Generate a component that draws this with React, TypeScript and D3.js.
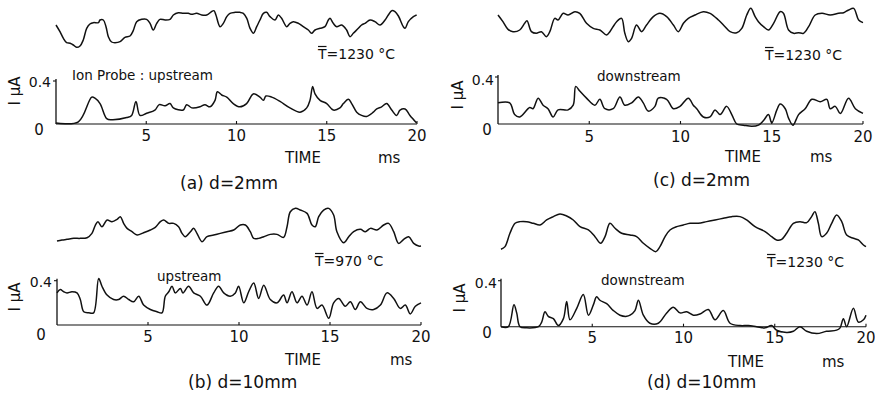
import React from 'react';
import * as d3 from 'd3';

// time axis (ms) and ion current ticks
const timeTicks = [5, 10, 15, 20];
const ionTop = 0.4;

// temperature traces, relative units (no scale drawn in the figure)
const tempA: [number, number][] = [
  [0, 75], [0.22, 55], [0.41, 35], [0.59, 22], [0.78, 20], [0.96, 15], [1.14, 8], [1.33, 12], [1.51, 30],
  [1.7, 65], [1.88, 78], [2.07, 82], [2.35, 82], [2.44, 90], [2.62, 90], [2.77, 70], [2.9, 40], [3.08, 24],
  [3.27, 22], [3.55, 25], [3.82, 38], [4.1, 42], [4.28, 58], [4.47, 85], [4.75, 92], [5.02, 92], [5.21, 80],
  [5.39, 60], [5.58, 80], [5.76, 92], [6.04, 90], [6.32, 92], [6.5, 105], [6.78, 112], [7.05, 110],
  [7.33, 110], [7.52, 107], [7.79, 110], [8.07, 105], [8.35, 105], [8.62, 115], [8.75, 118], [8.86, 105],
  [9.09, 70], [9.27, 80], [9.46, 100], [9.64, 110], [9.92, 113], [10.19, 113], [10.38, 110], [10.57, 95],
  [10.75, 65], [10.94, 50], [11.12, 70], [11.3, 90], [11.49, 110], [11.67, 113], [11.86, 100], [12.13, 90],
  [12.32, 105], [12.5, 95], [12.78, 70], [12.96, 80], [13.15, 85], [13.43, 80], [13.7, 70], [13.98, 60],
  [14.16, 50], [14.35, 60], [14.63, 65], [14.9, 70], [15.09, 90], [15.18, 95], [15.36, 80], [15.55, 70],
  [15.83, 75], [16.1, 60], [16.29, 40], [16.47, 50], [16.75, 65], [16.93, 75], [17.12, 80], [17.4, 90],
  [17.67, 85], [17.95, 75], [18.23, 90], [18.41, 105], [18.6, 118], [18.78, 115], [18.97, 102], [19.24, 70],
  [19.34, 65], [19.52, 85], [19.8, 100], [19.98, 105],
];

const tempB: [number, number][] = [
  [0, 17], [0.27, 20], [0.55, 22], [0.92, 25], [1.28, 25], [1.65, 27], [1.92, 40], [2.11, 65], [2.25, 75],
  [2.47, 60], [2.75, 80], [3.02, 75], [3.3, 82], [3.48, 90], [3.66, 70], [3.85, 55], [4.12, 45], [4.4, 35],
  [4.76, 42], [5.13, 50], [5.4, 58], [5.68, 75], [5.86, 80], [6.14, 70], [6.41, 70], [6.68, 60], [6.87, 40],
  [7.05, 30], [7.33, 45], [7.51, 55], [7.69, 40], [7.97, 15], [8.24, 30], [8.61, 35], [8.97, 40], [9.34, 45],
  [9.71, 50], [10.07, 65], [10.35, 65], [10.62, 45], [10.81, 25], [11.08, 25], [11.36, 30], [11.72, 37],
  [12.09, 37], [12.45, 28], [12.64, 60], [12.82, 105], [13.1, 115], [13.37, 110], [13.74, 100], [14.01, 65],
  [14.19, 60], [14.38, 90], [14.65, 110], [14.93, 115], [15.2, 95], [15.38, 45], [15.75, 12], [16.03, 30],
  [16.3, 45], [16.67, 52], [16.94, 45], [17.22, 55], [17.58, 50], [17.95, 65], [18.22, 70], [18.5, 45],
  [18.77, 10], [19.05, 22], [19.32, 30], [19.6, 10], [19.87, 2], [20, 2],
];

const tempC: [number, number][] = [
  [0, 105], [0.27, 85], [0.55, 62], [0.82, 55], [1.19, 60], [1.46, 80], [1.59, 88], [1.83, 55], [2.1, 50],
  [2.38, 55], [2.65, 40], [2.84, 55], [3.11, 95], [3.29, 90], [3.57, 110], [3.84, 105], [4.21, 115],
  [4.48, 110], [4.85, 80], [5.22, 65], [5.58, 60], [5.95, 45], [6.13, 55], [6.5, 85], [6.77, 95], [6.95, 50],
  [7.14, 25], [7.32, 35], [7.59, 75], [7.87, 55], [8.14, 75], [8.51, 100], [8.87, 110], [9.24, 100],
  [9.61, 75], [9.88, 55], [10.16, 80], [10.43, 95], [10.8, 105], [11.25, 115], [11.62, 110], [12.08, 90],
  [12.44, 70], [12.72, 55], [13.08, 52], [13.36, 65], [13.63, 105], [13.85, 125], [14.09, 100], [14.27, 85],
  [14.55, 70], [14.82, 60], [15.1, 80], [15.46, 115], [15.64, 110], [15.92, 60], [16.2, 50], [16.47, 52],
  [16.74, 50], [17.02, 70], [17.38, 105], [17.75, 110], [18.2, 105], [18.66, 110], [18.94, 112], [19.21, 120],
  [19.49, 125], [19.76, 90], [20, 82],
];

const tempD: [number, number][] = [
  [0, 12], [0.22, 20], [0.49, 60], [0.77, 90], [1.04, 95], [1.41, 95], [1.77, 90], [2.14, 85], [2.5, 100],
  [2.87, 110], [3.23, 118], [3.6, 112], [3.96, 100], [4.33, 80], [4.79, 70], [5.15, 50], [5.46, 30],
  [5.7, 50], [5.97, 90], [6.25, 75], [6.61, 60], [7.07, 55], [7.43, 50], [7.8, 30], [8.16, 15], [8.49, 5],
  [8.71, 20], [8.99, 50], [9.26, 70], [9.63, 80], [9.99, 85], [10.36, 90], [10.81, 90], [11.27, 95],
  [11.73, 100], [12.18, 105], [12.64, 110], [13.1, 110], [13.46, 100], [13.92, 80], [14.47, 65], [14.83, 50],
  [15.1, 40], [15.38, 42], [15.65, 60], [16.02, 90], [16.38, 95], [16.75, 92], [17.02, 110], [17.2, 125],
  [17.39, 90], [17.57, 50], [17.84, 60], [18.12, 90], [18.39, 115], [18.67, 95], [18.94, 55], [19.31, 45],
  [19.58, 40], [19.86, 25], [20, 20],
];

// ion probe current (μA)
const ionA: [number, number][] = [
  [0, 0.01], [1.24, 0.02], [1.98, 0.25], [2.16, 0.24], [2.44, 0.19], [2.81, 0.05], [3.08, 0.04], [3.92, 0.06],
  [4.19, 0.08], [4.43, 0.21], [4.65, 0.08], [5.02, 0.1], [5.48, 0.13], [5.72, 0.18], [6.04, 0.17], [6.32, 0.19],
  [6.5, 0.15], [7.05, 0.13], [7.24, 0.18], [7.52, 0.15], [7.98, 0.16], [8.25, 0.18], [8.53, 0.16], [8.81, 0.22],
  [8.94, 0.3], [9.18, 0.27], [9.46, 0.25], [9.82, 0.19], [10.19, 0.16], [10.56, 0.19], [10.93, 0.28],
  [11.3, 0.25], [11.49, 0.22], [11.63, 0.26], [11.95, 0.25], [12.41, 0.21], [12.96, 0.15], [13.52, 0.11],
  [13.89, 0.15], [14.07, 0.22], [14.22, 0.35], [14.35, 0.28], [14.63, 0.22], [15.0, 0.19], [15.36, 0.13],
  [15.73, 0.15], [15.92, 0.19], [16.2, 0.23], [16.38, 0.19], [16.66, 0.11], [16.93, 0.08], [17.21, 0.07],
  [17.58, 0.11], [17.77, 0.14], [18.04, 0.16], [18.32, 0.19], [18.6, 0.13], [18.87, 0.08], [19.06, 0.13],
  [19.34, 0.14], [19.61, 0.08], [19.98, 0.01],
];

const ionB: [number, number][] = [
  [0, 0.29], [0.18, 0.32], [0.37, 0.3], [0.55, 0.29], [0.82, 0.3], [1.1, 0.29], [1.28, 0.23], [1.47, 0.12],
  [1.74, 0.11], [2.01, 0.11], [2.29, 0.42], [2.47, 0.35], [2.75, 0.27], [3.11, 0.23], [3.39, 0.23], [3.66, 0.26],
  [3.94, 0.23], [4.21, 0.21], [4.49, 0.26], [4.76, 0.18], [5.13, 0.14], [5.49, 0.12], [5.77, 0.11], [5.95, 0.26],
  [6.14, 0.3], [6.32, 0.35], [6.5, 0.29], [6.78, 0.33], [6.92, 0.29], [7.23, 0.35], [7.51, 0.29], [7.88, 0.26],
  [8.24, 0.18], [8.61, 0.29], [8.88, 0.35], [9.16, 0.29], [9.52, 0.26], [9.8, 0.29], [9.98, 0.35], [10.26, 0.2],
  [10.53, 0.3], [10.81, 0.38], [11.08, 0.24], [11.36, 0.36], [11.72, 0.23], [12.09, 0.2], [12.45, 0.27],
  [12.64, 0.2], [12.91, 0.3], [13.19, 0.2], [13.46, 0.26], [13.74, 0.18], [14.01, 0.3], [14.29, 0.15],
  [14.56, 0.18], [14.93, 0.06], [15.2, 0.2], [15.48, 0.24], [15.84, 0.17], [16.12, 0.21], [16.39, 0.14],
  [16.67, 0.21], [17.03, 0.15], [17.4, 0.14], [17.77, 0.18], [18.13, 0.29], [18.5, 0.24], [18.86, 0.15],
  [19.14, 0.18], [19.41, 0.1], [19.69, 0.17], [20, 0.2],
];

const ionC: [number, number][] = [
  [0, 0.18], [0.64, 0.18], [0.91, 0.08], [1.19, 0.06], [1.74, 0.14], [1.92, 0.13], [2.2, 0.22], [2.47, 0.16],
  [2.74, 0.13], [3.02, 0.06], [3.29, 0.12], [3.84, 0.12], [4.12, 0.16], [4.26, 0.32], [4.48, 0.28], [4.85, 0.22],
  [5.31, 0.16], [5.58, 0.21], [5.86, 0.13], [6.31, 0.13], [6.68, 0.23], [6.95, 0.16], [7.32, 0.18], [7.69, 0.23],
  [7.96, 0.18], [8.23, 0.11], [8.6, 0.15], [8.78, 0.22], [9.24, 0.21], [9.61, 0.13], [9.97, 0.15], [10.43, 0.22],
  [10.7, 0.16], [10.89, 0.13], [11.25, 0.06], [11.62, 0.06], [11.89, 0.12], [12.17, 0.08], [12.53, 0.15],
  [12.81, 0.08], [13.08, 0.0], [13.45, -0.01], [13.91, -0.02], [14.27, -0.01], [14.55, 0.03], [14.82, 0.08],
  [15.0, 0.01], [15.28, 0.12], [15.46, 0.17], [15.74, 0.13], [15.92, 0.05], [16.16, -0.01], [16.47, 0.08],
  [16.83, 0.13], [17.2, 0.21], [17.66, 0.19], [18.02, 0.21], [18.2, 0.13], [18.48, 0.15], [18.76, 0.09],
  [19.21, 0.22], [19.58, 0.13], [20, 0.09],
];

const ionD: [number, number][] = [
  [0, 0], [0.4, 0], [0.71, 0.19], [0.86, 0.12], [1.04, 0], [1.41, -0.01], [2.05, 0], [2.23, 0.04], [2.41, 0.13],
  [2.59, 0.09], [2.87, 0.07], [3.14, 0.01], [3.42, 0.07], [3.6, 0.22], [3.78, 0.06], [4.15, 0.16], [4.51, 0.28],
  [4.79, 0.1], [5.06, 0.19], [5.24, 0.26], [5.42, 0.23], [5.79, 0.2], [6.16, 0.14], [6.52, 0.1], [6.89, 0.09],
  [7.07, 0.1], [7.34, 0.14], [7.53, 0.23], [7.8, 0.1], [8.16, 0.03], [8.62, 0.03], [9.08, 0.12], [9.44, 0.17],
  [9.81, 0.12], [10.17, 0.13], [10.54, 0.1], [10.9, 0.11], [11.36, 0.15], [11.73, 0.06], [12.18, 0.14],
  [12.55, 0.03], [13.1, 0.01], [13.55, 0.01], [14.01, 0], [14.47, -0.01], [14.83, 0.01], [15.1, -0.03],
  [15.65, -0.05], [16.02, -0.04], [16.38, 0], [16.75, -0.04], [17.3, -0.06], [17.84, -0.04], [18.39, -0.03],
  [18.58, -0.01], [18.76, 0.07], [18.94, 0], [19.31, 0.16], [19.58, 0.04], [19.86, 0.06], [20, 0.1],
];

const panels = [
  {
    temp: tempA, ion: ionA, tValue: '=1230 °C', probe: 'Ion Probe : upstream', caption: '(a) d=2mm',
    x0: 56, x1: 417, tempY: [50, 10], ionY: [124, 81],
    tLabelPos: [318, 59], probePos: [72, 80], yLabelPos: [20, 91], zeroPos: [39, 135], fourPos: [51, 87],
    tickBase: 141, timePos: [285, 163], msPos: [378, 163], capPos: [180, 189],
  },
  {
    temp: tempC, ion: ionC, tValue: '=1230 °C', probe: 'downstream', caption: '(c) d=2mm',
    x0: 498, x1: 863, tempY: [50, 10], ionY: [124, 77],
    tLabelPos: [765, 60], probePos: [597, 81], yLabelPos: [463, 95], zeroPos: [487, 135], fourPos: [494, 85],
    tickBase: 142, timePos: [725, 162], msPos: [810, 162], capPos: [653, 186],
  },
  {
    temp: tempB, ion: ionB, tValue: '=970 °C', probe: 'upstream', caption: '(b) d=10mm',
    x0: 57, x1: 421, tempY: [246.7, 206.7], ionY: [325, 280.7],
    tLabelPos: [315, 266], probePos: [157, 281], yLabelPos: [20, 297], zeroPos: [41, 340], fourPos: [52, 287],
    tickBase: 342, timePos: [285, 365], msPos: [390, 365], capPos: [188, 388],
  },
  {
    temp: tempD, ion: ionD, tValue: '=1230 °C', probe: 'downstream', caption: '(d) d=10mm',
    x0: 501, x1: 866, tempY: [253.3, 213.3], ionY: [326.7, 280.7],
    tLabelPos: [767, 267], probePos: [601, 285], yLabelPos: [465, 298], zeroPos: [487, 338], fourPos: [497, 288],
    tickBase: 343, timePos: [728, 367], msPos: [822, 367], capPos: [647, 388],
  },
];

const ink = '#111';
const font = '"DejaVu Sans", sans-serif';

const Panel = ({ p }: { p: typeof panels[number] }) => {
  const x = d3.scaleLinear().domain([0, 20]).range([p.x0, p.x1]);
  const yT = d3.scaleLinear().domain([0, 120]).range(p.tempY);
  const yI = d3.scaleLinear().domain([0, ionTop]).range(p.ionY);

  const tempLine = d3.line<[number, number]>()
    .x(d => x(d[0]))
    .y(d => yT(d[1]))
    .curve(d3.curveCatmullRom.alpha(0.5));
  const ionLine = d3.line<[number, number]>()
    .x(d => x(d[0]))
    .y(d => yI(d[1]))
    .curve(d3.curveCatmullRom.alpha(0.5));

  const [tx, ty] = p.tLabelPos;

  return (
    <g fill={ink} fontFamily={font}>
      <path d={tempLine(p.temp) || ''} fill="none" stroke={ink} strokeWidth={1.5} strokeLinejoin="round" />
      {/* mean temperature, T with an overbar */}
      <line x1={tx} x2={tx + 8.5} y1={ty - 12.5} y2={ty - 12.5} stroke={ink} strokeWidth={1.2} />
      <text x={tx} y={ty} fontSize={14}>T{p.tValue}</text>

      {/* axes */}
      <line x1={x(0)} x2={x(20)} y1={yI(0)} y2={yI(0)} stroke={ink} strokeWidth={1.1} />
      <line x1={x(0)} x2={x(0)} y1={yI(0)} y2={yI(ionTop) - 2} stroke={ink} strokeWidth={1.3} />
      <line x1={x(0) - 3} x2={x(0)} y1={yI(ionTop)} y2={yI(ionTop)} stroke={ink} strokeWidth={1.1} />
      {timeTicks.map(t => (
        <g key={t}>
          <line x1={x(t)} x2={x(t)} y1={yI(0)} y2={yI(0) - 3} stroke={ink} strokeWidth={1.1} />
          <text x={x(t)} y={p.tickBase} fontSize={15} textAnchor="middle">{t}</text>
        </g>
      ))}
      <text x={p.zeroPos[0]} y={p.zeroPos[1]} fontSize={15} textAnchor="middle">0</text>
      <text x={p.fourPos[0]} y={p.fourPos[1]} fontSize={14} textAnchor="end">{ionTop}</text>
      <text
        transform={`translate(${p.yLabelPos[0]},${p.yLabelPos[1]}) rotate(-90)`}
        fontSize={15}
        textAnchor="middle"
      >
        I μA
      </text>

      <path d={ionLine(p.ion) || ''} fill="none" stroke={ink} strokeWidth={1.5} strokeLinejoin="round" />
      <text x={p.probePos[0]} y={p.probePos[1]} fontSize={13.5}>{p.probe}</text>

      <text x={p.timePos[0]} y={p.timePos[1]} fontSize={15}>TIME</text>
      <text x={p.msPos[0]} y={p.msPos[1]} fontSize={15}>ms</text>
      <text x={p.capPos[0]} y={p.capPos[1]} fontSize={17}>{p.caption}</text>
    </g>
  );
};

export default function App() {
  return (
    <svg
      width={875}
      height={398}
      style={{ position: 'absolute', left: 0, top: 0, background: '#fff' }}
    >
      {panels.map(p => <Panel key={p.caption} p={p} />)}
    </svg>
  );
}
